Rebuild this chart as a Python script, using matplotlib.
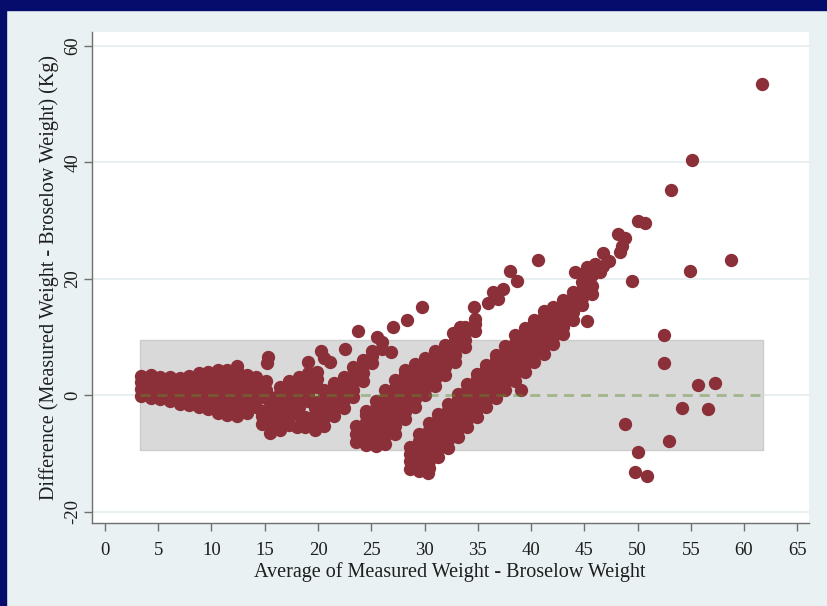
import numpy as np
import matplotlib.pyplot as plt
from matplotlib.patches import Rectangle

# mean difference and limits of agreement (the grey band)
mean_diff = 0.1
loa_low = -9.4
loa_high = 9.6
band_x = [3.3, 61.75]

# points, grouped per cluster
# each cluster: column x positions and the y values found in that column
c1_x = [3.4, 4.3, 5.2, 6.1, 7.0, 7.9, 8.8, 9.7, 10.6, 11.5, 12.4, 13.3, 14.2, 15.1]
c1_y = [[-0.1, 1.1, 2.3, 3.4],
        [-0.4, 0.6, 1.8, 3.0, 3.5],
        [-0.6, 0.7, 2.0, 3.1],
        [-1.0, 0.2, 1.5, 2.7, 3.1],
        [-1.5, -0.3, 1.0, 2.2, 3.0],
        [-1.7, -0.5, 0.8, 2.1, 3.4],
        [-2.0, -0.8, 0.5, 1.8, 3.0, 3.9],
        [-2.4, -1.2, 0.1, 1.4, 2.7, 4.1],
        [-3.0, -1.7, -0.4, 0.9, 2.2, 3.4, 4.3],
        [-3.3, -2.0, -0.6, 0.7, 2.0, 3.3, 4.4],
        [-3.5, -2.2, -0.9, 0.4, 1.7, 3.0, 4.3, 5.0],
        [-3.0, -1.7, -0.4, 0.9, 2.2, 3.5],
        [-1.9, -0.6, 0.6, 1.9, 3.1],
        [-0.4, 0.9, 2.4]]

c2_x = [14.7, 15.5, 16.4, 17.3, 18.2, 19.1, 19.9]
c2_y = [[-4.9, -3.6, -2.7],
        [-6.4, -5.1, -3.8, -2.5, -1.2, -0.2],
        [-6.0, -4.7, -3.4, -2.1, -0.8, 0.5, 1.5],
        [-5.0, -3.7, -2.4, -1.1, 0.2, 1.4, 2.4],
        [-3.3, -2.0, -0.7, 0.6, 1.9, 3.2],
        [-1.0, 0.3, 1.6, 2.8, 3.8],
        [1.5, 2.8, 4.0]]

c3_x = [18.8, 19.7, 20.6, 21.5, 22.4, 23.3, 24.2, 25.1, 26.0]
c3_y = [[-5.4, -4.3, -3.7],
        [-6.0, -4.7, -3.4, -2.1, -1.1],
        [-5.2, -3.9, -2.6, -1.3, 0.0, 1.0],
        [-3.6, -2.3, -1.0, 0.3, 1.5, 2.1],
        [-2.1, -0.8, 0.5, 1.8, 3.1],
        [-0.3, 1.0, 2.3, 3.6, 4.8],
        [2.5, 3.8, 5.0, 6.0],
        [5.5, 6.7, 7.7],
        [8.0, 9.2]]

c4_x = [23.6, 24.5, 25.4, 26.3, 27.2, 28.2, 29.1, 30.0, 31.0, 31.9, 32.9, 33.8, 34.7]
c4_y = [[-8.0, -6.7, -5.2],
        [-8.5, -7.2, -5.9, -4.6, -3.3, -2.6],
        [-8.6, -7.3, -6.0, -4.7, -3.4, -2.1, -0.9],
        [-8.3, -7.0, -5.7, -4.4, -3.1, -1.8, -0.5, 0.9],
        [-6.6, -5.3, -4.0, -2.7, -1.4, -0.1, 1.2, 2.6],
        [-4.1, -2.8, -1.5, -0.2, 1.1, 2.4, 3.6, 4.4],
        [-1.9, -0.6, 0.7, 2.0, 3.3, 4.5, 5.4],
        [0.0, 1.3, 2.6, 3.9, 5.2, 6.4],
        [1.6, 2.9, 4.2, 5.5, 6.7, 7.6],
        [3.5, 4.8, 6.1, 7.4, 8.7],
        [5.7, 7.0, 8.3, 9.6, 10.2],
        [8.3, 9.6, 10.9, 11.7],
        [11.0, 12.3, 13.2]]

c5_x = [28.6, 29.5, 30.4, 31.3, 32.2, 33.1, 34.0, 34.9, 35.8, 36.7,
        37.6, 38.5, 39.4, 40.3, 41.2, 42.1, 43.0, 43.9, 44.8, 45.7]
c5_y = [[-12.6, -11.3, -10.0, -8.8],
        [-13.0, -11.7, -10.4, -9.1, -7.8, -6.6],
        [-12.5, -11.2, -9.9, -8.6, -7.3, -6.0, -4.7],
        [-10.5, -9.2, -7.9, -6.6, -5.3, -4.0, -3.1],
        [-9.0, -7.7, -6.4, -5.1, -3.8, -2.5, -1.4],
        [-7.1, -5.8, -4.5, -3.2, -1.9, -0.6, 0.3],
        [-5.5, -4.2, -2.9, -1.6, -0.3, 1.0, 1.9],
        [-3.7, -2.4, -1.1, 0.2, 1.5, 2.8, 3.6],
        [-2.0, -0.7, 0.6, 1.9, 3.2, 4.5, 5.3],
        [-0.4, 0.9, 2.2, 3.5, 4.8, 6.1, 6.9],
        [1.0, 2.3, 3.6, 4.9, 6.2, 7.5, 8.5],
        [2.5, 3.8, 5.1, 6.4, 7.7, 9.0, 10.3],
        [4.0, 5.3, 6.6, 7.9, 9.2, 10.5, 11.6],
        [5.8, 7.1, 8.4, 9.7, 11.0, 12.3, 13.0],
        [7.2, 8.5, 9.8, 11.1, 12.4, 13.7, 14.5],
        [8.8, 10.1, 11.4, 12.7, 14.0, 15.2],
        [10.5, 11.8, 13.1, 14.4, 15.6, 16.4],
        [13.0, 14.3, 15.6, 16.9, 17.8],
        [15.5, 16.8, 18.1, 19.5, 20.8],
        [17.4, 18.8, 20.6, 21.8]]

# single scattered points
out_x = [15.2, 15.3, 18.0, 19.1, 20.3, 20.6, 21.1, 22.5, 23.8, 25.5, 26.9, 27.0,
         28.4, 29.8, 32.7, 33.3, 34.6, 36.0, 36.4, 36.9, 37.4, 38.0, 38.7, 40.7,
         39.1, 30.3, 44.1, 45.3, 46.0, 46.5, 46.8, 47.3, 46.8, 48.4, 48.5, 48.2,
         48.8, 50.0, 50.7, 53.1, 55.1, 61.7, 45.3, 49.5, 54.9, 58.8, 52.5, 52.5,
         55.7, 57.3, 54.2, 56.6, 48.8, 53.0, 50.0, 49.8, 50.9]
out_y = [5.6, 6.6, -5.5, 5.7, 7.6, 6.4, 5.7, 7.9, 11.0, 10.1, 7.5, 11.7,
         13.0, 15.1, 10.8, 11.8, 15.2, 15.8, 17.7, 16.6, 18.2, 21.3, 19.6, 23.3,
         0.9, -13.3, 21.2, 22.0, 22.6, 21.2, 22.3, 23.0, 24.5, 24.6, 25.6, 27.8,
         27.0, 29.9, 29.6, 35.2, 40.4, 53.5, 12.7, 19.7, 21.3, 23.3, 10.3, 5.6,
         1.8, 2.2, -2.2, -2.4, -4.9, -7.9, -9.7, -13.1, -13.9]


def flatten(cols, vals):
    xs, ys = [], []
    for x, col in zip(cols, vals):
        for y in col:
            xs.append(x)
            ys.append(y)
    return xs, ys


all_x, all_y = [], []
for cols, vals in [(c1_x, c1_y), (c2_x, c2_y), (c3_x, c3_y), (c4_x, c4_y), (c5_x, c5_y)]:
    xs, ys = flatten(cols, vals)
    all_x += xs
    all_y += ys
all_x = np.array(all_x + out_x)
all_y = np.array(all_y + out_y)

plt.rcParams['font.family'] = ['Liberation Serif', 'DejaVu Serif']
plt.rcParams['axes.unicode_minus'] = False
txt = '#1e1e1e'

fig = plt.figure(figsize=(8.28, 6.06), dpi=100, facecolor='#E9F1F3')
# navy frame on top and left
fig.patches.append(Rectangle((0, 1 - 10/606), 1, 10/606, transform=fig.transFigure,
                             color='#050C6C', zorder=0))
fig.patches.append(Rectangle((0, 0), 6/828, 1, transform=fig.transFigure,
                             color='#050C6C', zorder=0))

ax = fig.add_axes([92/828, 83/606, 717/828, 491/606])
ax.set_facecolor('white')

ax.fill_between(band_x, loa_low, loa_high, color='#D9D9D9', ec='#CCCCCC', lw=1, zorder=1)
ax.scatter(all_x, all_y, s=92, color='#8B3038', linewidths=0, zorder=3)
ax.plot(band_x, [mean_diff, mean_diff], color='#5E8A2E', alpha=0.45, lw=2,
        ls=(0, (3.6, 2.5)), zorder=4)

ax.set_xlim(-1.22, 66.1)
ax.set_ylim(-21.9, 62.4)
ax.set_xticks(np.arange(0, 66, 5))
ax.set_yticks([-20, 0, 20, 40, 60])
ax.yaxis.grid(True, color='#E3ECEE', lw=1.2)
ax.set_axisbelow(True)

for s in ['top', 'right']:
    ax.spines[s].set_visible(False)
for s in ['left', 'bottom']:
    ax.spines[s].set_color('#707070')
    ax.spines[s].set_linewidth(1)

ax.tick_params(direction='out', length=5.5, width=1, color='#707070',
               labelsize=13.5, labelcolor=txt)
ax.tick_params(axis='x', pad=8)
ax.tick_params(axis='y', pad=2)
plt.setp(ax.get_yticklabels(), rotation=90, va='center')

ax.set_xlabel('Average of Measured Weight - Broselow Weight', fontsize=14.5, color=txt)
ax.set_ylabel('Difference (Measured Weight - Broselow Weight) (Kg)', fontsize=14.5, color=txt)
ax.xaxis.set_label_coords(0.4993, -0.1)
ax.yaxis.set_label_coords(-0.06, 0.5)
ax.xaxis.label.set_va('center')
ax.yaxis.label.set_va('center')

plt.savefig('out.png', dpi=100, facecolor=fig.get_facecolor())
